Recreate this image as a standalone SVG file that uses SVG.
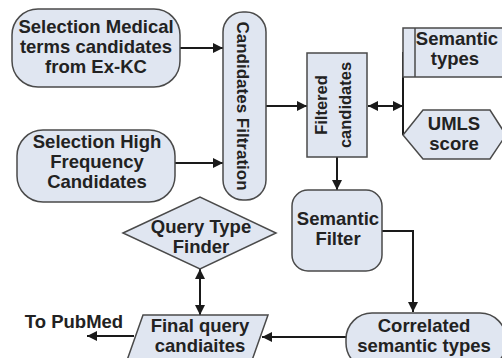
<svg xmlns="http://www.w3.org/2000/svg" width="502" height="358" viewBox="0 0 502 358">
<defs>
<marker id="ah" viewBox="0 0 10 10" refX="10" refY="5" markerWidth="10" markerHeight="10" markerUnits="userSpaceOnUse" orient="auto-start-reverse">
<path d="M0,0 L10,5 L0,10 z" fill="#1a1a1a"/>
</marker>
<style>
.n{fill:#e0e6f1;stroke:#4a4a4a;stroke-width:1.5}
.t{font-family:"Liberation Sans",Arial,sans-serif;font-weight:bold;font-size:18.5px;fill:#222;text-anchor:middle}
.c{fill:none;stroke:#1a1a1a;stroke-width:2}
</style>
</defs>
<rect width="502" height="358" fill="#fff"/>
<g id="connectors">
<line class="c" x1="180" y1="48" x2="223" y2="48" marker-end="url(#ah)"/>
<line class="c" x1="175" y1="163" x2="223" y2="163" marker-end="url(#ah)"/>
<line class="c" x1="266" y1="106" x2="307" y2="106" marker-end="url(#ah)"/>
<line class="c" x1="368" y1="106" x2="403" y2="106" marker-start="url(#ah)" marker-end="url(#ah)"/>
<line class="c" x1="403" y1="52" x2="403" y2="135"/>
<line class="c" x1="337" y1="157" x2="337" y2="190" marker-end="url(#ah)"/>
<polyline class="c" points="382,231 413,231 413,312" marker-end="url(#ah)"/>
<line class="c" x1="346" y1="337" x2="262" y2="337" marker-end="url(#ah)"/>
<line class="c" x1="200" y1="269" x2="200" y2="315" marker-start="url(#ah)" marker-end="url(#ah)"/>
<line class="c" x1="134" y1="336" x2="87" y2="336" marker-end="url(#ah)"/>
</g>
<g id="node-medical">
<rect class="n" x="12" y="9" width="168" height="78" rx="26"/>
<text class="t" x="96" y="33">Selection Medical</text>
<text class="t" x="96" y="53">terms candidates</text>
<text class="t" x="96" y="73">from Ex-KC</text>
</g>
<g id="node-highfreq">
<rect class="n" x="17" y="130" width="158" height="72" rx="26"/>
<text class="t" x="97" y="148">Selection High</text>
<text class="t" x="97" y="168">Frequency</text>
<text class="t" x="97" y="188">Candidates</text>
</g>
<g id="node-filtration">
<rect class="n" x="223" y="12" width="43" height="188" rx="20"/>
<text class="t" style="font-size:17px" transform="translate(237,106) rotate(90)">Candidates Filtration</text>
</g>
<g id="node-filtered">
<rect class="n" x="307" y="53" width="60" height="104"/>
<text class="t" style="font-size:16.5px" transform="translate(327,105) rotate(-90)">Filtered</text>
<text class="t" style="font-size:16.5px" transform="translate(351,105) rotate(-90)">candidates</text>
</g>
<g id="node-semtypes">
<rect class="n" x="403" y="28" width="110" height="49"/>
<line x1="415" y1="28" x2="415" y2="77" stroke="#4a4a4a" stroke-width="1.5"/>
<text class="t" x="457" y="45">Semantic</text>
<text class="t" x="455" y="65">types</text>
</g>
<g id="node-umls">
<polygon class="n" points="403,135 423,110 490,110 506,135 490,159 423,159"/>
<text class="t" x="454" y="130">UMLS</text>
<text class="t" x="454" y="150">score</text>
</g>
<g id="node-semfilter">
<rect class="n" x="292" y="190" width="90" height="81" rx="16"/>
<text class="t" x="338" y="225">Semantic</text>
<text class="t" x="338" y="245">Filter</text>
</g>
<g id="node-correlated">
<rect class="n" x="346" y="313" width="160" height="56" rx="26"/>
<text class="t" x="424" y="332">Correlated</text>
<text class="t" x="424" y="352">semantic types</text>
</g>
<g id="node-final">
<polygon class="n" points="143,315 268,315 250,366 125,366"/>
<text class="t" x="200" y="332">Final query</text>
<text class="t" x="200" y="352">candiaites</text>
</g>
<g id="node-querytype">
<polygon class="n" points="123,233 200,197 276,233 200,269"/>
<text class="t" x="201" y="233">Query Type</text>
<text class="t" x="201" y="253">Finder</text>
</g>
<g id="label-pubmed">
<text class="t" x="74" y="328">To PubMed</text>
</g>
</svg>
